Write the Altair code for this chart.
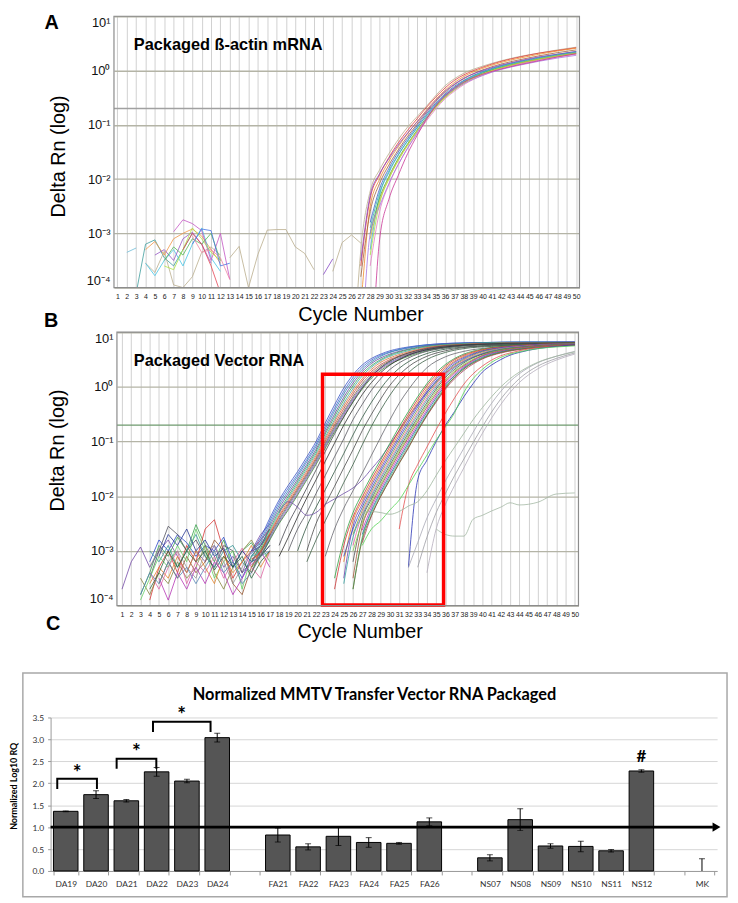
import altair as alt
import pandas as pd

N = None

# =====================================================================
# Panel A : packaged beta-actin mRNA amplification plot (log10 Delta Rn)
# =====================================================================
A_GROW_CYCLES = [26, 27, 28, 29, 30, 31, 32, 33, 34, 35, 36, 37, 38, 40, 42, 44, 46, 48, 50]
A_GROW_COLORS = ["#b9ad8c", "#e03a3a", "#f08a2a", "#a0603c", "#3a5ad0", "#44aee0", "#34a844",
                 "#a6e040", "#8444c4", "#e47cc4", "#34b0a4", "#c8c032", "#a874e0", "#c83494"]
A_GROW_LOG = [
    [-6.0, -3.3, -2.22, -1.83, -1.53, -1.27, -1.04, -0.85, -0.66, -0.46, -0.28, -0.15, -0.05, 0.08, 0.18, 0.26, 0.32, 0.38, 0.43],
    [N, -3.6, -2.35, -1.92, -1.6, -1.33, -1.1, -0.89, -0.68, -0.49, -0.32, -0.18, -0.08, 0.06, 0.17, 0.25, 0.32, 0.37, 0.42],
    [-6.0, -4.3, -2.5, -2.0, -1.67, -1.4, -1.16, -0.94, -0.73, -0.53, -0.36, -0.22, -0.11, 0.04, 0.15, 0.23, 0.3, 0.36, 0.41],
    [N, -3.8, -2.6, -2.08, -1.74, -1.46, -1.21, -0.99, -0.77, -0.57, -0.4, -0.26, -0.15, 0.01, 0.12, 0.2, 0.27, 0.33, 0.38],
    [N, N, -2.8, -2.18, -1.8, -1.5, -1.25, -1.02, -0.8, -0.6, -0.43, -0.29, -0.18, -0.02, 0.09, 0.17, 0.24, 0.3, 0.35],
    [N, N, -3.3, -2.3, -1.88, -1.56, -1.3, -1.06, -0.84, -0.64, -0.46, -0.32, -0.2, -0.04, 0.07, 0.15, 0.22, 0.28, 0.33],
    [N, N, -3.0, -2.35, -1.95, -1.62, -1.35, -1.1, -0.87, -0.66, -0.48, -0.34, -0.22, -0.05, 0.06, 0.14, 0.21, 0.27, 0.32],
    [N, N, -3.4, -2.45, -2.0, -1.66, -1.38, -1.13, -0.9, -0.68, -0.5, -0.36, -0.24, -0.07, 0.05, 0.13, 0.2, 0.26, 0.31],
    [N, -3.5, -2.3, -1.9, -1.62, -1.37, -1.15, -0.95, -0.75, -0.55, -0.38, -0.25, -0.14, 0.0, 0.1, 0.18, 0.25, 0.3, 0.35],
    [N, N, -3.6, -2.6, -2.1, -1.73, -1.43, -1.17, -0.93, -0.71, -0.52, -0.38, -0.26, -0.09, 0.03, 0.12, 0.19, 0.25, 0.3],
    [N, N, -2.9, -2.25, -1.85, -1.55, -1.29, -1.05, -0.83, -0.62, -0.45, -0.31, -0.19, -0.03, 0.08, 0.16, 0.23, 0.29, 0.34],
    [N, N, -3.1, -2.4, -1.97, -1.64, -1.36, -1.11, -0.88, -0.67, -0.49, -0.35, -0.23, -0.06, 0.05, 0.14, 0.21, 0.27, 0.32],
    [N, -5.5, -3.0, -2.5, -2.08, -1.73, -1.43, -1.15, -0.88, -0.64, -0.47, -0.34, -0.24, -0.09, 0.02, 0.1, 0.17, 0.23, 0.28],
    [N, N, -6.0, -3.12, -2.37, -1.93, -1.53, -1.2, -0.9, -0.65, -0.46, -0.32, -0.21, -0.07, 0.03, 0.11, 0.18, 0.25, 0.31],
]
A_NOISE_CYCLES = [2, 3, 4, 5, 6, 7, 8, 9, 10, 11, 12, 13, 14]
A_NOISE_COLORS = ["#6cbcd8", "#3c9c9c", "#b9ad8c", "#f09444", "#44c4e4", "#9454c4", "#c454c4",
                  "#aee444", "#54b454", "#e44454", "#4474e4", "#f084a4"]
A_NOISE_LOG = [
    [-3.35, -3.27, N, N, N, N, N, N, N, N, N, N, N],
    [N, -4.1, -3.2, -3.12, -3.45, -3.6, -3.3, -3.0, N, N, N, N, N],
    [N, N, -3.55, -3.72, -3.33, -3.95, -4.0, -3.8, -3.35, -3.25, -3.4, N, N],
    [N, N, -3.3, -3.15, -3.4, -3.1, -3.0, -2.92, -3.05, -3.3, -3.55, N, N],
    [N, N, -3.55, -3.78, -3.5, -3.3, -3.6, -3.2, -2.9, -3.45, -3.7, N, N],
    [N, N, N, -3.4, -3.3, -3.5, -3.1, -2.98, -3.2, -3.55, N, N, N],
    [N, N, N, N, N, -2.97, -2.75, -2.82, -2.95, -3.5, -3.0, -3.85, N],
    [N, N, N, N, -3.6, -3.67, -3.3, -2.9, -3.1, -3.35, -3.5, N, N],
    [N, N, N, N, -3.5, -3.25, -3.4, -3.1, -3.2, -3.0, -3.5, N, N],
    [N, N, N, N, N, N, -3.3, -3.0, -3.2, -3.6, -4.1, N, N],
    [N, N, N, N, N, N, N, -3.2, -2.92, -2.95, -3.6, -3.55, N],
    [N, N, N, N, N, N, N, -3.05, -3.35, -3.3, -3.45, -3.85, N],
]
A_LATE_CYCLES = [13, 14, 15, 16, 17, 18, 19, 20, 21, 22, 23, 24, 25, 26, 27]
A_LATE_COLORS = ["#b9ad8c", "#8444c4", "#b9ad8c"]
A_LATE_LOG = [
    [-3.45, -3.24, -4.0, -3.39, -2.94, -2.93, -2.93, -3.25, -3.37, -3.67, N, N, N, N, N],
    [N, N, N, N, N, N, N, N, N, N, -3.76, -3.47, N, N, N],
    [N, N, N, N, N, N, N, N, N, N, N, -3.7, -3.17, -3.03, -3.18],
]

# =====================================================================
# Panel B : packaged vector RNA amplification plot (log10 Delta Rn)
# =====================================================================
B_NOISE_CYCLES = [1, 2, 3, 4, 5, 6, 7, 8, 9, 10, 11, 12, 13, 14, 15, 16, 17]
B_NOISE_COLORS = ["#34a048", "#d83434", "#2a48c8", "#7448a8", "#50505c", "#84843c", "#309494", "#94542c",
                  "#64d064", "#e064a4", "#243490", "#e0842c", "#949494", "#28643a", "#b434b4", "#5484b4"]
B_NOISE_LOG = [
    [N, N, -3.8, -3.4, -2.9, -3.1, -2.75, -3.0, -2.52, -2.9, -3.2, -2.8, -3.3, -3.0, -2.85, -3.1, -2.8],
    [N, N, N, -3.9, -3.3, -3.0, -3.4, -2.9, -3.2, -2.6, -2.43, -3.0, -3.5, -3.2, -3.0, -2.8, -2.6],
    [N, N, N, -3.2, -2.8, -3.0, -2.7, -2.85, -3.1, -2.9, -3.0, -2.75, -3.2, -3.5, -3.1, -2.9, -2.7],
    [-3.7, -3.2, -2.93, -3.3, -3.0, -2.8, -3.1, -3.4, -3.0, -3.2, -2.9, -3.3, -3.1, -3.4, -3.0, -2.7, -2.5],
    [N, N, N, -3.5, -3.0, -2.55, -2.7, -3.0, -2.8, -3.1, -3.3, -2.9, -3.0, -3.4, -3.2, -2.9, -2.6],
    [N, N, -3.5, -3.8, -3.4, -3.6, -3.2, -3.5, -3.3, -2.9, -3.4, -3.7, -3.3, -3.0, -2.8, -3.1, -2.9],
    [N, N, N, -3.0, -3.2, -2.9, -3.3, -3.0, -2.7, -3.1, -3.3, -3.0, -2.9, -3.2, -3.4, -3.0, -2.8],
    [N, N, N, N, -3.6, -3.2, -3.5, -3.1, -3.4, -3.2, -2.8, -3.0, -3.6, -3.8, -3.3, -3.0, -2.7],
    [N, N, -3.9, -3.5, -3.1, -3.3, -2.9, -3.2, -2.6, -3.0, -3.5, -3.2, -3.0, -3.7, -3.1, -2.9, -3.2],
    [N, N, N, -3.4, -3.7, -3.3, -3.0, -3.6, -3.2, -3.4, -3.1, -3.5, -3.2, -2.95, -3.3, -3.5, -3.0],
    [N, N, N, N, -3.1, -2.7, -2.9, -2.6, -3.0, -2.8, -3.1, -2.95, -3.3, -3.0, -3.2, -3.1, -2.9],
    [N, N, N, -3.6, -3.3, -3.5, -3.1, -3.4, -3.0, -3.3, -3.6, -3.1, -3.4, -3.2, -2.9, -3.3, -3.0],
    [N, N, N, -3.3, -2.95, -3.2, -3.0, -3.3, -3.5, -3.0, -2.9, -3.2, -3.6, -3.3, -3.0, -2.85, -2.7],
    [N, N, N, -3.7, -3.4, -3.0, -3.3, -3.0, -3.2, -3.0, -3.35, -3.1, -3.3, -3.1, -3.5, -3.2, -3.0],
    [N, N, N, N, -3.5, -3.9, -3.4, -3.7, -3.3, -3.6, -3.2, -3.4, -3.8, -3.5, -3.2, -3.0, -3.3],
    [N, N, -3.8, -3.4, -3.6, -3.2, -3.5, -3.3, -3.6, -3.3, -3.0, -3.4, -3.2, -3.6, -3.4, -3.1, -3.0],
]
B_EARLY_CYCLES = [15, 16, 17, 18, 19, 20, 21, 22, 23, 24, 25, 26, 27, 28, 29, 30, 32, 34, 37, 40, 45, 50]
B_EARLY_COLORS = ["#3452c4", "#4466d4", "#2c84b4", "#6444a4", "#34a454", "#44a4a4",
                  "#e07434", "#c44444", "#846444", "#5474a4", "#9454b4", "#3c8c3c"]
B_EARLY_LOG = [
    [-3.0, -2.75, -2.4, -2.07, -1.8, -1.55, -1.28, -1.0, -0.66, -0.33, -0.02, 0.22, 0.4, 0.52, 0.6, 0.66, 0.73, 0.77, 0.8, 0.81, 0.82, 0.82],
    [-3.05, -2.8, -2.45, -2.12, -1.85, -1.6, -1.33, -1.05, -0.72, -0.39, -0.08, 0.17, 0.36, 0.49, 0.58, 0.64, 0.72, 0.77, 0.8, 0.81, 0.82, 0.82],
    [-3.1, -2.85, -2.5, -2.17, -1.9, -1.64, -1.37, -1.09, -0.77, -0.44, -0.13, 0.12, 0.32, 0.46, 0.56, 0.63, 0.71, 0.76, 0.79, 0.81, 0.82, 0.82],
    [-3.0, -2.9, -2.55, -2.22, -1.95, -1.69, -1.42, -1.14, -0.82, -0.5, -0.19, 0.07, 0.28, 0.43, 0.53, 0.6, 0.69, 0.75, 0.79, 0.8, 0.81, 0.82],
    [-3.2, -2.95, -2.6, -2.27, -2.0, -1.73, -1.46, -1.18, -0.86, -0.55, -0.24, 0.02, 0.24, 0.39, 0.5, 0.58, 0.68, 0.74, 0.78, 0.8, 0.81, 0.81],
    [-3.1, -2.98, -2.64, -2.31, -2.04, -1.77, -1.5, -1.22, -0.91, -0.6, -0.3, -0.03, 0.2, 0.36, 0.48, 0.56, 0.66, 0.73, 0.78, 0.8, 0.81, 0.81],
    [-3.3, -3.0, -2.67, -2.35, -2.08, -1.81, -1.54, -1.26, -0.95, -0.64, -0.35, -0.08, 0.15, 0.32, 0.45, 0.53, 0.64, 0.72, 0.77, 0.79, 0.81, 0.81],
    [-3.15, -3.02, -2.7, -2.38, -2.12, -1.85, -1.58, -1.3, -0.99, -0.69, -0.4, -0.13, 0.11, 0.28, 0.41, 0.5, 0.62, 0.71, 0.76, 0.79, 0.8, 0.81],
    [-3.4, -3.05, -2.72, -2.42, -2.15, -1.88, -1.61, -1.33, -1.03, -0.73, -0.45, -0.18, 0.06, 0.24, 0.38, 0.48, 0.6, 0.69, 0.75, 0.78, 0.8, 0.81],
    [-3.2, -3.08, -2.75, -2.45, -2.18, -1.91, -1.64, -1.36, -1.06, -0.76, -0.48, -0.21, 0.02, 0.21, 0.35, 0.45, 0.59, 0.68, 0.75, 0.78, 0.8, 0.8],
    [-3.25, -3.09, -2.78, -2.48, -2.22, -1.95, -1.67, -1.39, -1.09, -0.79, -0.51, -0.24, -0.01, 0.19, 0.33, 0.43, 0.58, 0.67, 0.74, 0.78, 0.8, 0.8],
    [-3.3, -3.1, -2.8, -2.5, -2.25, -1.98, -1.7, -1.42, -1.12, -0.82, -0.55, -0.28, -0.04, 0.16, 0.3, 0.41, 0.56, 0.66, 0.74, 0.78, 0.8, 0.81],
]
B_DARK_CYCLES = [18, 19, 20, 21, 22, 23, 24, 25, 26, 27, 28, 29, 30, 31, 32, 34, 36, 38, 41, 45, 50]
B_DARK_COLORS = ["#44444c", "#2c2c2c", "#54545c", "#2f5540", "#4a4a4a", "#3a5e44", "#64646c", "#7050a8"]
B_DARK_LOG = [
    [-2.9, -2.5, -2.18, -1.85, -1.52, -1.18, -0.86, -0.55, -0.27, -0.02, 0.19, 0.35, 0.47, 0.56, 0.62, 0.7, 0.75, 0.77, 0.79, 0.8, 0.8],
    [-3.1, -2.75, -2.38, -2.03, -1.7, -1.36, -1.03, -0.7, -0.41, -0.14, 0.08, 0.26, 0.4, 0.5, 0.58, 0.68, 0.73, 0.76, 0.78, 0.79, 0.8],
    [N, -3.0, -2.6, -2.3, -1.95, -1.62, -1.28, -0.95, -0.6, -0.32, -0.06, 0.15, 0.32, 0.44, 0.53, 0.65, 0.71, 0.75, 0.77, 0.79, 0.79],
    [N, N, -3.0, -2.55, -2.2, -1.88, -1.55, -1.22, -0.88, -0.56, -0.28, -0.03, 0.18, 0.34, 0.46, 0.61, 0.69, 0.73, 0.76, 0.78, 0.79],
    [N, N, N, -3.0, -2.5, -2.15, -1.82, -1.48, -1.15, -0.8, -0.5, -0.22, 0.03, 0.22, 0.37, 0.56, 0.66, 0.72, 0.75, 0.77, 0.78],
    [N, N, N, -3.2, -2.8, -2.45, -2.1, -1.75, -1.42, -1.06, -0.72, -0.42, -0.15, 0.08, 0.26, 0.5, 0.63, 0.7, 0.74, 0.77, 0.78],
    [N, N, N, N, N, -3.1, -2.6, -2.22, -1.9, -1.58, -1.25, -0.92, -0.6, -0.3, -0.05, 0.35, 0.55, 0.65, 0.72, 0.76, 0.78],
    [-2.3, -2.1, -2.2, -2.35, -2.3, -2.15, -2.05, -1.95, -1.85, -1.7, -1.5, -1.3, -1.05, -0.8, -0.55, -0.1, 0.25, 0.47, 0.64, 0.74, 0.78],
]
B_MAIN_CYCLES = [24, 25, 26, 27, 28, 29, 30, 31, 32, 33, 34, 35, 36, 37, 38, 40, 42, 45, 50]
B_MAIN_COLORS = ["#30a040", "#d03030", "#e07820", "#7040b0", "#3050c0", "#909030", "#e060a0", "#30a0a0",
                 "#505050", "#80d040", "#a05030", "#c030c0", "#2060a0", "#40c080", "#b04060", "#6a6a30"]
B_MAIN_LOG = [
    [-3.5, -2.8, -2.3, -1.95, -1.63, -1.33, -1.03, -0.73, -0.45, -0.18, 0.06, 0.26, 0.41, 0.52, 0.6, 0.69, 0.74, 0.77, 0.8],
    [-3.7, -2.9, -2.38, -2.02, -1.69, -1.39, -1.09, -0.79, -0.5, -0.23, 0.02, 0.22, 0.38, 0.5, 0.58, 0.68, 0.73, 0.77, 0.8],
    [N, -3.2, -2.45, -2.08, -1.75, -1.44, -1.14, -0.84, -0.55, -0.28, -0.03, 0.18, 0.35, 0.47, 0.56, 0.67, 0.72, 0.76, 0.79],
    [N, -3.5, -2.55, -2.14, -1.8, -1.49, -1.19, -0.89, -0.6, -0.33, -0.07, 0.15, 0.32, 0.45, 0.54, 0.66, 0.72, 0.76, 0.79],
    [N, -3.1, -2.6, -2.2, -1.86, -1.54, -1.24, -0.94, -0.65, -0.37, -0.11, 0.11, 0.29, 0.42, 0.52, 0.65, 0.71, 0.76, 0.79],
    [N, N, -2.7, -2.26, -1.91, -1.59, -1.29, -0.99, -0.7, -0.42, -0.15, 0.07, 0.26, 0.4, 0.5, 0.64, 0.7, 0.75, 0.79],
    [N, N, -2.9, -2.32, -1.96, -1.64, -1.34, -1.04, -0.75, -0.47, -0.2, 0.04, 0.23, 0.37, 0.48, 0.62, 0.7, 0.75, 0.78],
    [N, -3.6, -2.75, -2.35, -2.0, -1.68, -1.38, -1.08, -0.79, -0.51, -0.24, 0.0, 0.2, 0.35, 0.46, 0.61, 0.69, 0.74, 0.78],
    [N, N, -3.2, -2.42, -2.05, -1.73, -1.43, -1.13, -0.84, -0.56, -0.29, -0.04, 0.17, 0.32, 0.44, 0.6, 0.68, 0.74, 0.78],
    [N, N, -3.0, -2.48, -2.1, -1.78, -1.47, -1.17, -0.88, -0.6, -0.33, -0.08, 0.13, 0.29, 0.41, 0.58, 0.67, 0.73, 0.77],
    [N, N, -3.5, -2.55, -2.15, -1.82, -1.51, -1.21, -0.92, -0.64, -0.37, -0.12, 0.1, 0.27, 0.39, 0.57, 0.66, 0.73, 0.77],
    [N, N, N, -2.62, -2.2, -1.87, -1.56, -1.26, -0.97, -0.69, -0.42, -0.16, 0.06, 0.24, 0.37, 0.56, 0.65, 0.72, 0.77],
    [N, N, N, -2.7, -2.26, -1.92, -1.61, -1.31, -1.02, -0.73, -0.46, -0.2, 0.03, 0.21, 0.35, 0.54, 0.64, 0.71, 0.77],
    [N, N, -3.7, -2.75, -2.3, -1.96, -1.65, -1.35, -1.06, -0.77, -0.5, -0.24, 0.0, 0.18, 0.33, 0.53, 0.63, 0.71, 0.76],
    [N, N, N, -2.85, -2.36, -2.0, -1.69, -1.39, -1.1, -0.81, -0.53, -0.28, -0.04, 0.15, 0.3, 0.51, 0.62, 0.7, 0.76],
    [N, N, -3.7, -2.8, -2.35, -2.0, -1.7, -1.4, -1.12, -0.8, -0.52, -0.26, -0.02, 0.18, 0.33, 0.52, 0.63, 0.71, 0.77],
]
B_LATE_CYCLES = [27, 28, 29, 30, 31, 32, 33, 34, 35, 36, 37, 38, 39, 40, 41, 42, 43, 44, 46, 48, 50]
B_LATE_COLORS = ["#e45050", "#2834b4", "#54d454", "#a8a8b4", "#9c9ca4", "#b4acbc", "#9cb49c", "#a4b8a4"]
B_LATE_LOG = [
    [N, N, N, N, -2.6, -1.8, -1.42, -1.1, -0.78, -0.48, -0.2, 0.05, 0.24, 0.38, 0.49, 0.57, 0.62, 0.66, 0.72, 0.75, 0.77],
    [N, N, N, N, N, -3.3, -1.7, -1.34, -1.0, -0.7, -0.45, -0.18, 0.06, 0.27, 0.4, 0.5, 0.58, 0.63, 0.7, 0.74, 0.77],
    [-2.9, -2.6, -2.45, -2.25, -2.07, -1.8, -1.52, -1.25, -0.97, -0.73, -0.47, -0.1, 0.15, 0.32, 0.45, 0.54, 0.6, 0.64, 0.7, 0.73, 0.75],
    [N, N, N, N, N, -3.3, -2.85, -2.4, -2.05, -1.72, -1.42, -1.12, -0.83, -0.55, -0.3, -0.08, 0.1, 0.24, 0.44, 0.56, 0.65],
    [N, N, N, N, N, N, -3.3, -2.75, -2.3, -1.95, -1.62, -1.32, -1.02, -0.73, -0.46, -0.22, -0.02, 0.15, 0.38, 0.52, 0.62],
    [N, N, N, N, N, N, N, -3.4, -2.6, -2.15, -1.8, -1.48, -1.15, -0.85, -0.57, -0.32, -0.1, 0.08, 0.33, 0.49, 0.6],
    [-2.3, -2.28, -2.3, -2.33, -2.28, -2.18, -2.1, -1.9, -1.62, -1.35, -1.1, -0.85, -0.6, -0.38, -0.18, 0.0, 0.15, 0.27, 0.45, 0.56, 0.64],
    [N, N, N, N, N, N, N, N, -2.6, -2.7, -2.73, -2.73, -2.42, -2.35, -2.27, -2.2, -2.12, -2.16, -2.11, -1.96, -1.94],
]
B_BOX_CYCLES = [22.7, 35.8]
B_BOX_DRN = [1.7, 1.02e-4]

CYCLE_TICKS = list(range(1, 51))
Y_DECADES = [1e-4, 1e-3, 1e-2, 1e-1, 1, 10]
THRESHOLD = 0.2

# =====================================================================
# Panel C : normalized packaging bar chart
# =====================================================================
SAMPLES = ["DA19", "DA20", "DA21", "DA22", "DA23", "DA24",
           "FA21", "FA22", "FA23", "FA24", "FA25", "FA26",
           "NS07", "NS08", "NS09", "NS10", "NS11", "NS12", "MK"]
RQ = [1.36, 1.74, 1.60, 2.26, 2.05, 3.04,
      0.82, 0.55, 0.79, 0.65, 0.63, 1.12,
      0.30, 1.17, 0.57, 0.56, 0.46, 2.28, 0.0]
RQ_ERR = [0.01, 0.09, 0.03, 0.10, 0.04, 0.10,
          0.16, 0.07, 0.21, 0.11, 0.02, 0.09,
          0.07, 0.25, 0.05, 0.12, 0.03, 0.03, 0.28]
X_SLOTS = ["DA19", "DA20", "DA21", "DA22", "DA23", "DA24", "gap1",
           "FA21", "FA22", "FA23", "FA24", "FA25", "FA26", "gap2",
           "NS07", "NS08", "NS09", "NS10", "NS11", "NS12", "gap3", "MK"]
C_TICKS = [0.0, 0.5, 1.0, 1.5, 2.0, 2.5, 3.0, 3.5]
BASELINE_RQ = 1.0
BRACKET_LEFT = ["DA19", "DA21", "DA22"]
BRACKET_RIGHT = ["DA20", "DA22", "DA24"]
BRACKET_LEFT_POS = [0.22, 0.18, 0.38]
BRACKET_RIGHT_POS = [0.53, 0.49, 0.28]
BRACKET_TOP = [2.10, 2.56, 3.40]
BRACKET_LEG = 0.23
STAR_Y = [2.32, 2.79, 3.64]
HASH_SAMPLE = "NS12"
HASH_Y = 2.63

ONE = pd.DataFrame({"k": [0]})

# ---------------- layout (page pixels) ----------------
ORIGIN_X = 50                      # common left edge of all plot groups
A_TOP, B_TOP, C_TOP = 11, 331, 718  # top of each plot area
FRAME_LEFT, FRAME_RIGHT = 8, 735
SPACING = -32
A_FRAME = (8, 329)
B_FRAME = (306, 644)
C_FRAME = (612, 900)


def curve_rows(prefix, cycles, logs, colors):
    rows = []
    for i, (vals, col) in enumerate(zip(logs, colors)):
        for c, v in zip(cycles, vals):
            if v is not None:
                rows.append({"id": f"{prefix}{i}", "cycle": c, "lg": v, "col": col})
    return rows


def text_mark(txt, px, py, top, size, font, weight="bold", align="left", baseline="alphabetic"):
    return alt.Chart(ONE).mark_text(
        text=txt, font=font, fontSize=size, fontWeight=weight, align=align,
        baseline=baseline, color="black"
    ).encode(x=alt.value(px - ORIGIN_X), y=alt.value(py - top))


def frame_mark(frame, top):
    return alt.Chart(ONE).mark_rect(fill="white", fillOpacity=0, strokeOpacity=0).encode(
        x=alt.value(FRAME_LEFT - ORIGIN_X), x2=alt.value(FRAME_RIGHT - ORIGIN_X),
        y=alt.value(frame[0] - top), y2=alt.value(frame[1] - top))


Y_LABEL_EXPR = ("datum.value > 5 ? '10¹' : datum.value > 0.5 ? '10⁰' : datum.value > 0.05 ? '10⁻¹' : "
                "datum.value > 0.005 ? '10⁻²' : datum.value > 0.0005 ? '10⁻³' : '10⁻⁴'")


def qpcr_panel(plot_left, plot_right, top, h, xdom, parts, thr_color, title, letter, letter_page,
               ytitle_page, xtitle_page, frame, box=None):
    r0, r1 = plot_left - ORIGIN_X, plot_right - ORIGIN_X
    xs = alt.Scale(domain=xdom, range=[r0, r1], nice=False, zero=False)
    ys = alt.Scale(type="log", domain=[1e-4, 10], nice=False)
    xax = alt.Axis(values=CYCLE_TICKS, grid=True, gridColor="#d0d0d0", gridWidth=1, ticks=False,
                   domain=False, labelFont="Liberation Sans", labelFontSize=7, labelColor="#222",
                   labelPadding=5, labelAngle=0, labelOverlap=False, labelFlush=False,
                   title="Cycle Number", titleFont="Liberation Sans", titleFontSize=20,
                   titleFontWeight="normal", titleColor="black",
                   titleX=xtitle_page[0] - ORIGIN_X, titleY=xtitle_page[1] - (top + h),
                   titleBaseline="middle", titleAlign="center")
    yax = alt.Axis(values=Y_DECADES, labelExpr=Y_LABEL_EXPR, grid=True, gridColor="#b4b4a6", gridWidth=1.4,
                   ticks=False, domain=False, offset=-r0, labelFont="Liberation Sans", labelFontSize=13,
                   labelColor="#111", labelPadding=4, labelFlush=True,
                   title="Delta Rn (log)", titleFont="Liberation Sans", titleFontSize=20,
                   titleFontWeight="normal", titleColor="black", titleAngle=270,
                   titleX=ytitle_page[0] - plot_left, titleY=ytitle_page[1] - top,
                   titleBaseline="middle", titleAlign="center")

    def X(f):
        return alt.X(f, type="quantitative", scale=xs, axis=xax)

    def Y(f):
        return alt.Y(f, type="quantitative", scale=ys, axis=yax)

    layers = [frame_mark(frame, top)]
    layers.append(alt.Chart(pd.DataFrame({"c0": [xdom[0]], "c1": [xdom[1]], "drn": [THRESHOLD]})).mark_rule(
        color=thr_color, strokeWidth=1.4).encode(x=X("c0"), x2="c1", y=Y("drn")))
    for rows, interp in parts:
        layers.append(
            alt.Chart(pd.DataFrame(rows)).transform_calculate(drn="pow(10, datum.lg)")
            .mark_line(strokeWidth=0.8, clip=True, interpolate=interp)
            .encode(x=X("cycle"), y=Y("drn"), detail="id:N", color=alt.Color("col:N", scale=None))
        )
    if box is not None:
        layers.append(
            alt.Chart(pd.DataFrame({"c1": [box[0][0]], "c2": [box[0][1]], "d1": [box[1][0]], "d2": [box[1][1]]}))
            .mark_rect(fillOpacity=0, stroke="#ff0000", strokeWidth=3.5)
            .encode(x=X("c1"), x2="c2", y=Y("d1"), y2="d2")
        )
    # plot frame drawn in data space (edges of the domain)
    layers.append(
        alt.Chart(pd.DataFrame({"c0": [xdom[0]], "c1": [xdom[1]], "d0": [1e-4], "d1": [10.0]}))
        .mark_rect(fillOpacity=0, stroke="#8c8c8c", strokeWidth=1.2)
        .encode(x=X("c0"), x2="c1", y=Y("d0"), y2="d1")
    )
    layers.append(text_mark(title[0], title[1], title[2], top, 16.5, "Liberation Sans"))
    layers.append(text_mark(letter, letter_page[0], letter_page[1], top, 20, "Liberation Sans",
                            align="center", baseline="top"))
    return alt.layer(*layers).properties(
        width=plot_right - ORIGIN_X, height=h, view=alt.ViewBackground(stroke="transparent"))


panel_a = qpcr_panel(
    114, 584, A_TOP, 274, [0.63, 50.35],
    [(curve_rows("an", A_NOISE_CYCLES, A_NOISE_LOG, A_NOISE_COLORS), "linear"),
     (curve_rows("al", A_LATE_CYCLES, A_LATE_LOG, A_LATE_COLORS), "linear"),
     (curve_rows("ag", A_GROW_CYCLES, A_GROW_LOG, A_GROW_COLORS), "monotone")],
    "#a0a0a0", ("Packaged ß-actin mRNA", 134, 45), "A", (51, 8),
    (58, 152), (363, 312), A_FRAME)

panel_b = qpcr_panel(
    117, 583, B_TOP, 276, [0.45, 50.4],
    [(curve_rows("bn", B_NOISE_CYCLES, B_NOISE_LOG, B_NOISE_COLORS), "linear"),
     (curve_rows("be", B_EARLY_CYCLES, B_EARLY_LOG, B_EARLY_COLORS), "monotone"),
     (curve_rows("bd", B_DARK_CYCLES, B_DARK_LOG, B_DARK_COLORS), "monotone"),
     (curve_rows("bm", B_MAIN_CYCLES, B_MAIN_LOG, B_MAIN_COLORS), "monotone"),
     (curve_rows("bl", B_LATE_CYCLES, B_LATE_LOG, B_LATE_COLORS), "monotone")],
    "#6e9a6e", ("Packaged Vector RNA", 134, 365), "B", (50.5, 309.5),
    (57.5, 450), (362, 633), B_FRAME,
    box=(B_BOX_CYCLES, B_BOX_DRN))

# ---------------- Panel C ----------------
C_W, C_H = 673, 155
bars_df = pd.DataFrame({"sample": SAMPLES, "rq": RQ, "err": RQ_ERR})
bars_df["lo"] = bars_df["rq"] - bars_df["err"]
bars_df["hi"] = bars_df["rq"] + bars_df["err"]

slot_scale = alt.Scale(domain=X_SLOTS, paddingInner=0.19, paddingOuter=0.095)
q_scale = alt.Scale(domain=[0, len(X_SLOTS)], nice=False, zero=False)
cy_scale = alt.Scale(domain=[0, 3.5], nice=False)
cx_axis = alt.Axis(title=None, labelExpr="indexof(datum.label, 'gap') == 0 ? '' : datum.label",
                   labelAngle=0, labelFont="Lato", labelFontSize=8.5, labelColor="#333", labelPadding=5,
                   ticks=True, tickBand="extent", tickSize=4, tickColor="#9a9a9a",
                   domain=True, domainColor="#9a9a9a", grid=False)
cy_axis = alt.Axis(values=C_TICKS, format=".1f", title="Normalized Log10 RQ", titleFont="Lato",
                   titleFontSize=9, titleFontWeight="bold", titleColor="black", titleAngle=270,
                   titleX=12.5 - ORIGIN_X, titleY=787 - C_TOP, titleBaseline="middle", titleAlign="center",
                   labelFont="Lato", labelFontSize=8.5, labelColor="#333", labelPadding=4,
                   tickSize=3, tickColor="#9a9a9a", domain=True, domainColor="#9a9a9a",
                   grid=True, gridColor="#d6d6d6")


def CY(f):
    return alt.Y(f, type="quantitative", scale=cy_scale, axis=cy_axis)


def CX(f):
    return alt.X(f, type="nominal", scale=slot_scale, axis=cx_axis)


def QX(f):
    return alt.X(f, type="quantitative", scale=q_scale, axis=None)


bars = alt.Chart(bars_df[bars_df["rq"] > 0]).mark_bar(
    color="#555555", stroke="black", strokeWidth=1).encode(x=CX("sample"), y=CY("rq"))
err_rule = alt.Chart(bars_df).mark_rule(color="black", strokeWidth=1, clip=True).encode(
    x=CX("sample"), y=CY("lo"), y2="hi")
cap_lo = alt.Chart(bars_df).mark_tick(color="black", thickness=1, size=6, clip=True).encode(
    x=CX("sample"), y=CY("lo"))
cap_hi = alt.Chart(bars_df).mark_tick(color="black", thickness=1, size=6, clip=True).encode(
    x=CX("sample"), y=CY("hi"))
band_layer = alt.layer(bars, err_rule, cap_lo, cap_hi)

idx = {s: i for i, s in enumerate(X_SLOTS)}
br_rows, star_rows = [], []
for b, (l, r, lp, rp, top_v, sy) in enumerate(zip(BRACKET_LEFT, BRACKET_RIGHT, BRACKET_LEFT_POS,
                                                  BRACKET_RIGHT_POS, BRACKET_TOP, STAR_Y)):
    xl, xr = idx[l] + lp, idx[r] + rp
    for o, (qx, qy) in enumerate([(xl, top_v - BRACKET_LEG), (xl, top_v), (xr, top_v), (xr, top_v - BRACKET_LEG)]):
        br_rows.append({"b": b, "o": o, "q": qx, "y": qy})
    star_rows.append({"q": (xl + xr) / 2, "y": sy})

arrow_line = alt.Chart(pd.DataFrame({"q0": [0], "q1": [len(X_SLOTS) - 0.14], "y": [BASELINE_RQ]})).mark_rule(
    color="black", strokeWidth=2.6).encode(x=QX("q0"), x2="q1", y=CY("y"))
arrow_head = alt.Chart(pd.DataFrame({"q": [len(X_SLOTS) - 0.02], "y": [BASELINE_RQ]})).mark_point(
    shape="triangle-right", filled=True, size=85, color="black", opacity=1).encode(x=QX("q"), y=CY("y"))
brackets = alt.Chart(pd.DataFrame(br_rows)).mark_line(color="black", strokeWidth=2).encode(
    x=QX("q"), y=CY("y"), detail="b:N", order="o:Q")
stars = alt.Chart(pd.DataFrame(star_rows)).mark_text(
    text="*", font="Lato", fontSize=21, fontWeight="bold", baseline="alphabetic", dy=11, color="black").encode(
    x=QX("q"), y=CY("y"))
hash_mark = alt.Chart(pd.DataFrame({"q": [idx[HASH_SAMPLE] + 0.5], "y": [HASH_Y]})).mark_text(
    text="#", font="Lato", fontSize=17, fontWeight="bold", baseline="alphabetic", dy=6, color="black").encode(
    x=QX("q"), y=CY("y"))
box = alt.Chart(ONE).mark_rect(fillOpacity=0, stroke="#a8a8a8", strokeWidth=1.5).encode(
    x=alt.value(22 - ORIGIN_X), x2=alt.value(733 - ORIGIN_X), y=alt.value(673 - C_TOP), y2=alt.value(899 - C_TOP))
over_layer = alt.layer(
    frame_mark(C_FRAME, C_TOP), box, arrow_line, arrow_head, brackets, stars, hash_mark,
    text_mark("Normalized MMTV Transfer Vector RNA Packaged", 377, 700, C_TOP, 16.5, "Lato", align="center"),
    text_mark("C", 52.5, 613.5, C_TOP, 20, "Liberation Sans", align="center", baseline="top"),
)

panel_c = alt.layer(band_layer, over_layer).resolve_scale(x="independent").properties(
    width=C_W, height=C_H, view=alt.ViewBackground(stroke="transparent"))

chart = alt.concat(panel_a, panel_b, panel_c, columns=1, spacing=SPACING).properties(
    align="each", bounds="full", background="white",
    padding={"left": 0, "top": 0, "right": 0, "bottom": 0},
    autosize=alt.AutoSizeParams(type="pad"))

chart.save("out.html", embed_options={"renderer": "svg", "actions": False})
